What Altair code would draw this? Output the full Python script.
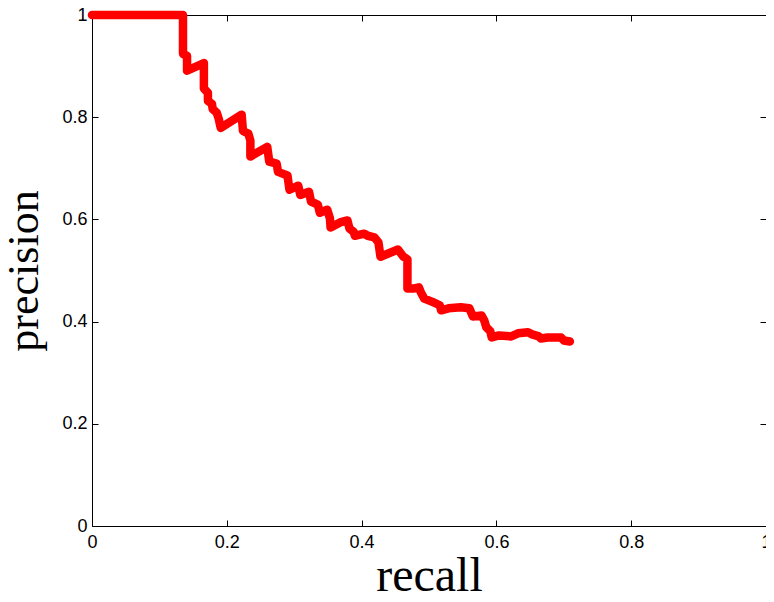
import altair as alt
import pandas as pd

recall = [0.000, 0.135, 0.135, 0.141, 0.141, 0.166, 0.166, 0.172, 0.172, 0.178,
          0.179, 0.185, 0.188, 0.191, 0.222, 0.224, 0.232, 0.235, 0.235, 0.260,
          0.263, 0.274, 0.276, 0.290, 0.293, 0.306, 0.309, 0.322, 0.325, 0.335,
          0.338, 0.349, 0.353, 0.354, 0.368, 0.379, 0.382, 0.388, 0.390, 0.404,
          0.409, 0.419, 0.425, 0.428, 0.454, 0.462, 0.468, 0.468, 0.478, 0.485,
          0.488, 0.493, 0.506, 0.516, 0.518, 0.529, 0.547, 0.560, 0.565, 0.578,
          0.582, 0.585, 0.591, 0.593, 0.604, 0.622, 0.632, 0.647, 0.653, 0.663,
          0.666, 0.676, 0.696, 0.700, 0.709]
precision = [1.000, 1.000, 0.924, 0.920, 0.891, 0.906, 0.856, 0.848, 0.832, 0.826,
             0.816, 0.809, 0.797, 0.779, 0.805, 0.773, 0.768, 0.754, 0.723, 0.742,
             0.713, 0.709, 0.693, 0.686, 0.658, 0.666, 0.648, 0.654, 0.635, 0.629,
             0.613, 0.619, 0.602, 0.584, 0.594, 0.598, 0.582, 0.576, 0.568, 0.572,
             0.568, 0.565, 0.555, 0.527, 0.541, 0.527, 0.522, 0.465, 0.465, 0.467,
             0.457, 0.445, 0.438, 0.432, 0.422, 0.426, 0.428, 0.426, 0.410, 0.412,
             0.402, 0.389, 0.381, 0.369, 0.373, 0.371, 0.377, 0.379, 0.375, 0.371,
             0.367, 0.369, 0.369, 0.363, 0.361]
x_ticks = [0, 0.2, 0.4, 0.6, 0.8, 1]
y_ticks = [0, 0.2, 0.4, 0.6, 0.8, 1]

df = pd.DataFrame({"recall": recall, "precision": precision,
                   "i": list(range(len(recall)))})

W, H = 674, 511

xs = alt.Scale(domain=[0, 1], nice=False, zero=False)
ys = alt.Scale(domain=[0, 1], nice=False, zero=False)

label_style = dict(labelFont="Liberation Sans", labelFontSize=18,
                   labelColor="black", labelFlush=False, format="~g")

main_x = alt.Axis(orient="bottom", values=x_ticks, ticks=False, tickSize=0,
                  domain=False, grid=False, labelPadding=7, **label_style,
                  title="recall", titleFont="Liberation Serif", titleFontSize=48,
                  titleFontWeight="normal", titleColor="black", titleX=W / 2,
                  titleY=64, titleBaseline="alphabetic", titleAlign="center")
main_y = alt.Axis(orient="left", values=y_ticks, ticks=False, tickSize=0,
                  domain=False, grid=False, labelPadding=5, **label_style,
                  title="precision", titleFont="Liberation Serif", titleFontSize=44,
                  titleFontWeight="normal", titleColor="black", titleX=-55,
                  titleY=H / 2, titleAngle=-90, titleBaseline="alphabetic",
                  titleAlign="center")


def tick_axis(orient, vals):
    return alt.Axis(orient=orient, values=vals, labels=False, domain=False,
                    grid=False, ticks=True, tickSize=6, tickColor="black",
                    tickWidth=1, offset=-6, title="")


line = alt.Chart(df).mark_line(
    color="#ff0000", strokeWidth=8.5, strokeJoin="round", strokeCap="round"
).encode(
    x=alt.X("recall:Q", scale=xs, axis=main_x),
    y=alt.Y("precision:Q", scale=ys, axis=main_y),
    order="i:Q",
)

ticks_bl = alt.Chart(df).mark_point(opacity=0).encode(
    x=alt.X("recall:Q", scale=xs, axis=tick_axis("bottom", x_ticks)),
    y=alt.Y("precision:Q", scale=ys, axis=tick_axis("left", y_ticks)),
)

ticks_tr = alt.Chart(df).mark_point(opacity=0).encode(
    x=alt.X("recall:Q", scale=xs, axis=tick_axis("top", x_ticks)),
    y=alt.Y("precision:Q", scale=ys, axis=tick_axis("right", y_ticks)),
)

chart = alt.layer(line, ticks_bl, ticks_tr).resolve_axis(
    x="independent", y="independent"
).properties(
    width=W, height=H,
    autosize=alt.AutoSizeParams(type="none"),
    padding={"left": 84, "top": 7, "right": 0, "bottom": 68},
).configure_view(stroke="black", strokeWidth=1)

chart.save("out.html", embed_options={"renderer": "svg", "actions": False})
